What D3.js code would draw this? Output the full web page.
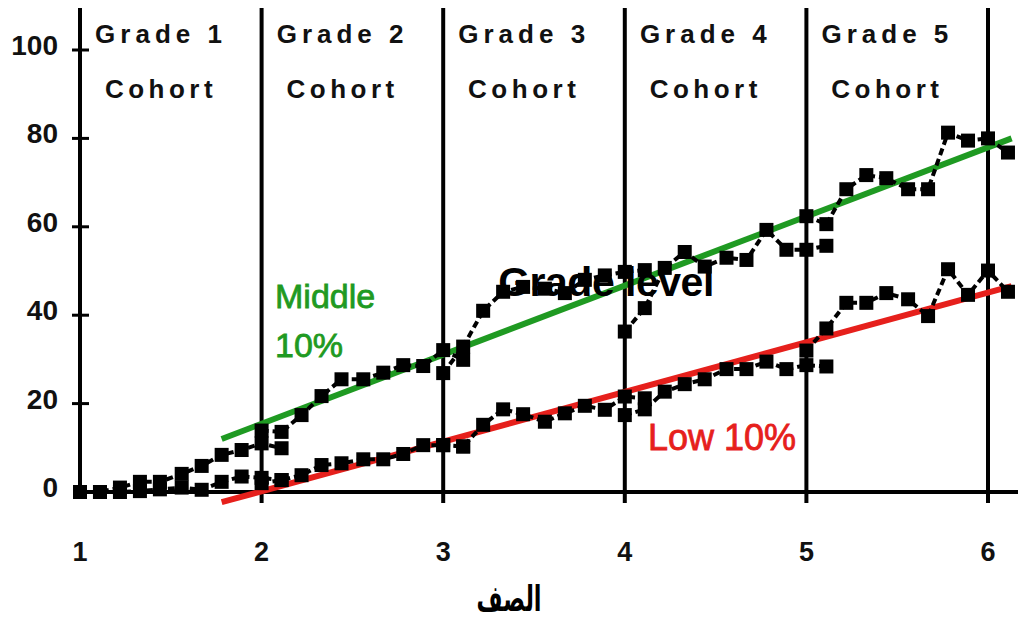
<!DOCTYPE html>
<html>
<head>
<meta charset="utf-8">
<script src="https://cdn.jsdelivr.net/npm/d3@7"></script>
<style>
  body { margin: 0; background: #fff; }
  svg { display: block; }
  text { font-family: "Liberation Sans", Arial, sans-serif; }
</style>
</head>
<body>
<svg id="chart" width="1018" height="624"></svg>
<script>
// grade boundaries on the x axis
var grades = [1, 2, 3, 4, 5, 6];
var yTicks = [0, 20, 40, 60, 80, 100];
var cohortGrades = [1, 2, 3, 4, 5];
// offsets inside a cohort's year (one point per testing)
var offsets = [0, 0.11, 0.22, 0.33, 0.44, 0.56, 0.67, 0.78, 0.89, 1.0, 1.11];

// middle 10% of each cohort
var mid1 = [0, 0, 1, 2.3, 2.3, 4.1, 5.9, 8.4, 9.5, 11, 9.9];
var mid2 = [13.9, 13.6, 17.4, 21.7, 25.5, 25.5, 27, 28.7, 28.5, 32.1, 29.9];
var mid3 = [26.9, 32.9, 41, 45.3, 46.4, 46, 45, 48, 49, 49.8, 50.2];
var mid4 = [36.3, 41.6, 50.7, 54.3, 51, 53, 52.5, 59.3, 54.8, 54.8, 55.7];
var mid5 = [62.4, 60.6, 68.5, 71.7, 71, 68.5, 68.5, 81.3, 79.5, 80, 76.8];
// low 10% of each cohort
var low1 = [0, 0, 0, 0.2, 0.6, 1, 0.5, 2.3, 3.5, 3.2, 2.7];
var low2 = [2.0, 2.7, 3.8, 6.1, 6.5, 7.4, 7.4, 8.6, 10.6, 10.6, 10.3];
var low3 = [10.6, 10.3, 15.2, 18.7, 17.6, 15.9, 17.8, 19.5, 18.6, 21.6, 21.2];
var low4 = [17.4, 18.7, 22.7, 24.4, 25.5, 27.8, 27.8, 29.5, 27.8, 28.7, 28.4];
var low5 = [32, 37, 42.8, 42.8, 45, 43.6, 39.8, 50.4, 44.6, 50.1, 45.3];

// fitted trend lines [x, y]
var midTrend = [[1.78, 12], [6.13, 80]];
var lowTrend = [[1.78, -2.3], [6.13, 46.6]];

var svg = d3.select("#chart");
var x = d3.scaleLinear().domain([1, 6]).range([80, 988]);
var y = d3.scaleLinear().domain([0, 100]).range([492, 50]);

svg.append("rect").attr("width", 1018).attr("height", 624).attr("fill", "#fff");

// cohort headers
var heads = svg.append("g");
heads.selectAll(".g1").data(cohortGrades).enter().append("text")
    .attr("x", d => x(d) + 81).attr("y", 43)
    .attr("text-anchor", "middle")
    .style("font-size", "26px").style("font-weight", "bold")
    .style("letter-spacing", "5px").attr("fill", "#111")
    .text(d => "Grade " + d);
heads.selectAll(".g2").data(cohortGrades).enter().append("text")
    .attr("x", d => x(d) + 81).attr("y", 98)
    .attr("text-anchor", "middle")
    .style("font-size", "26px").style("font-weight", "bold")
    .style("letter-spacing", "4.5px").attr("fill", "#111")
    .text("Cohort");

// vertical grade lines
svg.selectAll(".vline").data(grades).enter().append("line")
    .attr("x1", d => x(d)).attr("x2", d => x(d))
    .attr("y1", 8).attr("y2", d => d === 1 ? 498 : 503)
    .attr("stroke", "#000").attr("stroke-width", 4);

// x axis line
svg.append("line")
    .attr("x1", x(1)).attr("x2", 1018)
    .attr("y1", y(0)).attr("y2", y(0))
    .attr("stroke", "#000").attr("stroke-width", 4);

// y ticks
svg.selectAll(".yt").data(yTicks.filter(d => d > 0)).enter().append("line")
    .attr("x1", x(1) - 8).attr("x2", x(1) + 9)
    .attr("y1", d => y(d)).attr("y2", d => y(d))
    .attr("stroke", "#000").attr("stroke-width", 3);

svg.selectAll(".yl").data(yTicks).enter().append("text")
    .attr("x", 58).attr("y", d => y(d) + 5)
    .attr("text-anchor", "end")
    .style("font-size", "28px").style("font-weight", "bold")
    .attr("fill", "#111")
    .text(d => d);

svg.selectAll(".xl").data(grades).enter().append("text")
    .attr("x", d => x(d)).attr("y", 561)
    .attr("text-anchor", "middle")
    .style("font-size", "27px").style("font-weight", "bold")
    .attr("fill", "#111")
    .text(d => d);

// trend lines
var line = d3.line().x(d => x(d[0])).y(d => y(d[1]));
svg.append("path").attr("d", line(midTrend))
    .attr("stroke", "#1f9a22").attr("stroke-width", 6).attr("fill", "none");
svg.append("path").attr("d", line(lowTrend))
    .attr("stroke", "#e6201c").attr("stroke-width", 6).attr("fill", "none");

// cohort series
var series = [mid1, mid2, mid3, mid4, mid5, low1, low2, low3, low4, low5];
var seriesGrade = [1, 2, 3, 4, 5, 1, 2, 3, 4, 5];
var dataLine = d3.line().x(d => x(d[0])).y(d => y(d[1]));

series.forEach(function(vals, i) {
  var pts = vals.map((v, k) => [seriesGrade[i] + offsets[k], v]);
  svg.append("path").attr("d", dataLine(pts))
      .attr("stroke", "#000").attr("stroke-width", 4)
      .attr("stroke-dasharray", "7 4").attr("fill", "none");
  svg.append("g").selectAll("rect").data(pts).enter().append("rect")
      .attr("x", d => x(d[0]) - 7).attr("y", d => y(d[1]) - 7)
      .attr("width", 14).attr("height", 14)
      .attr("fill", "#000");
});

// labels
svg.append("text").attr("x", 275).attr("y", 308)
    .style("font-size", "34px").attr("fill", "#1f9a22")
    .attr("stroke", "#1f9a22").attr("stroke-width", 0.8).text("Middle");
svg.append("text").attr("x", 275).attr("y", 357)
    .style("font-size", "34px").attr("fill", "#1f9a22")
    .attr("stroke", "#1f9a22").attr("stroke-width", 0.8).text("10%");
svg.append("text").attr("x", 648).attr("y", 450)
    .style("font-size", "36px").attr("fill", "#e6201c")
    .attr("stroke", "#e6201c").attr("stroke-width", 0.8).text("Low 10%");

svg.append("text").attr("x", 606).attr("y", 296)
    .attr("text-anchor", "middle")
    .style("font-size", "41px").style("font-weight", "bold")
    .style("letter-spacing", "-0.5px")
    .attr("fill", "#000").text("Grade level");

svg.append("text")
    .attr("transform", "translate(509,611) scale(0.75,1.2)")
    .attr("text-anchor", "middle")
    .style("font-family", "'DejaVu Sans', sans-serif")
    .style("font-size", "30px").style("font-weight", "bold")
    .attr("fill", "#000").text("الصف");
</script>
</body>
</html>
